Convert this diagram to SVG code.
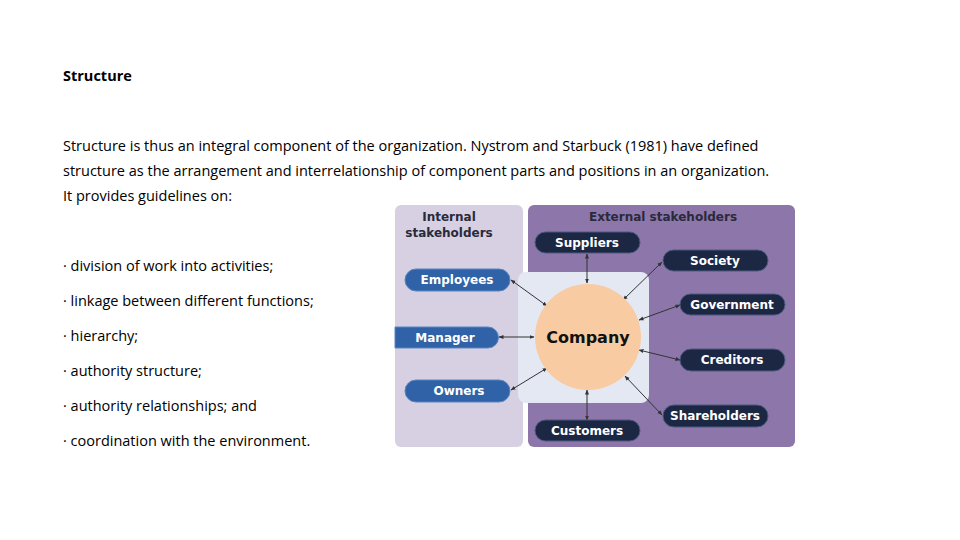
<svg xmlns="http://www.w3.org/2000/svg" width="960" height="540" viewBox="0 0 960 540">
<style>
.t{font-family:"Open Sans","Noto Sans",sans-serif;font-size:14.5px;fill:#000}
.h{font-family:"DejaVu Sans",sans-serif;font-weight:bold;font-size:12px;fill:#2a2a3a;text-anchor:middle}
.p{font-family:"DejaVu Sans",sans-serif;font-weight:bold;font-size:12px;fill:#fff;text-anchor:middle}
.dk{fill:#1c2744;stroke:#4a5a80;stroke-width:1}
.bl{fill:#2f62a6;stroke:#5a86c0;stroke-width:1}
.c{stroke:#333;stroke-width:1;fill:none;marker-start:url(#a);marker-end:url(#a)}
</style>
<defs><marker id="a" viewBox="0 0 10 10" refX="9" refY="5" markerWidth="5" markerHeight="5" orient="auto-start-reverse"><path d="M0,1L10,5L0,9z" fill="#333"/></marker></defs>
<rect width="960" height="540" fill="#fff"/>
<text class="t" x="63" y="81" font-weight="bold">Structure</text>
<text class="t" x="63" y="151">Structure is thus an integral component of the organization. Nystrom and Starbuck (1981) have defined</text>
<text class="t" x="63" y="176">structure as the arrangement and interrelationship of component parts and positions in an organization.</text>
<text class="t" x="63" y="201">It provides guidelines on:</text>
<text class="t" x="63" y="271">· division of work into activities;</text>
<text class="t" x="63" y="306">· linkage between different functions;</text>
<text class="t" x="63" y="341">· hierarchy;</text>
<text class="t" x="63" y="376">· authority structure;</text>
<text class="t" x="63" y="411">· authority relationships; and</text>
<text class="t" x="63" y="446">· coordination with the environment.</text>
<g id="panels">
<rect x="395" y="205" width="128" height="242" rx="6" fill="#d6d0e2"/>
<rect x="528" y="205" width="267" height="242" rx="6" fill="#8d76aa"/>
<rect x="518" y="272" width="131" height="131" rx="8" fill="#e4e8f3"/>
<text class="h" x="449" y="221">Internal</text>
<text class="h" x="449" y="237">stakeholders</text>
<text class="h" x="663" y="221">External stakeholders</text>
</g>
<g id="connectors">
<line class="c" x1="587" y1="254" x2="587" y2="283"/>
<line class="c" x1="662" y1="262" x2="623" y2="300"/>
<line class="c" x1="680" y1="305" x2="639" y2="320"/>
<line class="c" x1="680" y1="360" x2="639" y2="350"/>
<line class="c" x1="662" y1="415" x2="625" y2="376"/>
<line class="c" x1="587" y1="420" x2="587" y2="390"/>
<line class="c" x1="511" y1="280" x2="547" y2="306"/>
<line class="c" x1="499" y1="337" x2="534" y2="337"/>
<line class="c" x1="511" y1="390" x2="547" y2="368"/>
</g>
<g id="company"><circle cx="588" cy="337" r="53" fill="#f8cba2"/><text x="588" y="343" text-anchor="middle" font-family="DejaVu Sans,sans-serif" font-weight="bold" font-size="16" fill="#111">Company</text></g>
<g id="suppliers"><rect class="dk" x="535" y="232" width="105" height="21" rx="10.5"/><text class="p" x="587" y="247">Suppliers</text></g>
<g id="society"><rect class="dk" x="663" y="250" width="105" height="21" rx="10.5"/><text class="p" x="715" y="265">Society</text></g>
<g id="government"><rect class="dk" x="680" y="294" width="105" height="21" rx="10.5"/><text class="p" x="732" y="309">Government</text></g>
<g id="creditors"><rect class="dk" x="680" y="349" width="105" height="22" rx="11"/><text class="p" x="732" y="364">Creditors</text></g>
<g id="shareholders"><rect class="dk" x="663" y="405" width="105" height="22" rx="11"/><text class="p" x="715" y="420">Shareholders</text></g>
<g id="customers"><rect class="dk" x="535" y="420" width="105" height="21" rx="10.5"/><text class="p" x="587" y="435">Customers</text></g>
<g id="employees"><rect class="bl" x="405" y="269" width="105" height="22" rx="11"/><text class="p" x="457" y="284">Employees</text></g>
<g id="manager"><path class="bl" d="M395,327H488A10.5,10.5 0 0 1 488,348H395z"/><text class="p" x="445" y="342">Manager</text></g>
<g id="owners"><rect class="bl" x="405" y="380" width="105" height="22" rx="11"/><text class="p" x="459" y="395">Owners</text></g>
</svg>
